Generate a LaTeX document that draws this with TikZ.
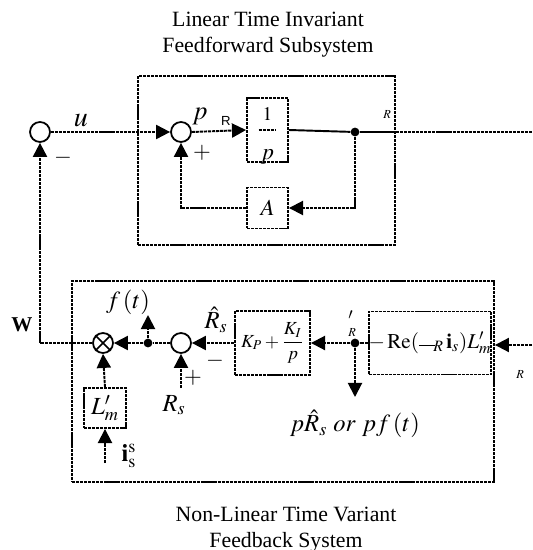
\documentclass[tikz,border=0pt]{standalone}
\usepackage{amsmath}
\usepackage{mathptmx}
\usepackage[no-math]{fontspec}
\setmainfont{Liberation Serif}
\setsansfont{Liberation Sans}
\usepackage{tikz}
\usetikzlibrary{arrows.meta}

\tikzset{
  dline/.style={line width=1.1pt, dash pattern=on 1.8pt off 0.5pt},
  subsys/.style={draw, dline, inner sep=0pt},
  blk/.style={draw, dline, inner sep=0pt},
  sumpt/.style={circle, draw, line width=1pt, minimum size=0.4cm, inner sep=0pt},
  dotpt/.style={circle, fill, inner sep=0pt, minimum size=5pt},
  arr/.style={dline, -{Triangle[length=8pt,width=8pt]}},
  lbl/.style={inner sep=0pt, font=\fontsize{12}{14}\selectfont},
  tiny/.style={inner sep=0pt, font=\fontsize{7}{8}\selectfont},
  title/.style={inner sep=0pt, align=center, font=\fontsize{12.4}{14.8}\selectfont},
}

\begin{document}
\begin{tikzpicture}[x=0.02cm, y=-0.02cm]
\useasboundingbox (0,0) rectangle (532,550);

% SOUS-SYSTEME AVANT
\node[subsys, minimum width=5.14cm, minimum height=3.38cm] (ff) at (266.5,160.5) {};
\node[title] (fftitle) at (268,35) {Linear Time Invariant\\Feedforward Subsystem};

\node[sumpt] (sum1) at (40,132) {};
\node[sumpt] (sum2) at (181,132) {};
\node[blk, minimum width=0.82cm, minimum height=1.28cm] (integ) at (267.5,130) {};
\node[lbl, font=\fontsize{11}{12}\selectfont] (one) at (267.5,114) {$1$};
\node[lbl, font=\fontsize{13}{15}\selectfont] (pden) at (267.5,157) {$p$};
\node[blk, minimum size=0.82cm, font=\fontsize{13}{15}\selectfont] (amat) at (267.5,208) {$A$};
\node[dotpt] (j1) at (355,132) {};
\coordinate (outR) at (532,132);

\draw[dline] ([xshift=-5pt]integ.center) -- ([xshift=5pt]integ.center);
\draw[arr] (sum1.east) -- (sum2.west);
\draw[arr] (sum2.east) -- (integ.west);
\draw[line width=1.1pt] (integ.east) -- (j1) -- (ff.east |- j1);
\draw[dline] (ff.east |- j1) -- (outR);
\draw[arr] (j1) |- (amat.east);
\draw[arr] (amat.west) -| (sum2.south);

\node[lbl, font=\fontsize{16}{18}\selectfont] (ulbl) at (81,121) {$u$};
\node[lbl, font=\fontsize{15}{17}\selectfont] (plbl) at (200,116) {$p$};
\node[tiny, font=\sffamily\fontsize{7.5}{8}\selectfont] (rlbl1) at (226,121) {R};
\node[tiny] (rlbl2) at (387,115) {$R$};
\node[lbl, font=\fontsize{13}{15}\selectfont] (plus1) at (202,153) {$+$};
\node[lbl, font=\fontsize{13}{15}\selectfont] (minus1) at (63,158) {$-$};

% SOUS-SYSTEME RETOUR
\node[subsys, minimum width=8.44cm, minimum height=4.02cm] (fb) at (283,381.5) {};
\node[title] (fbtitle) at (286,530) {Non-Linear Time Variant\\Feedback System};

\node[sumpt] (mul) at (103,343) {};
\draw[line width=1pt] (mul.north west) -- (mul.south east) (mul.north east) -- (mul.south west);
\node[dotpt] (j2) at (148,343) {};
\node[sumpt] (sum3) at (181,343) {};
\node[blk, minimum width=1.5cm, minimum height=1.28cm, font=\fontsize{10.5}{12}\selectfont] (pictl) at (272.5,343) {$K_{P}+\dfrac{K_{I}}{p}$};
\node[dotpt] (j3) at (355,343) {};
\node[blk, minimum width=2.12cm, minimum height=1.26cm, font=\fontsize{12}{14}\selectfont] (reblk) at (430,343)
  {$-\,\mathrm{Re}(\overline{\hphantom{\omega}}_{\!R}\,\mathbf{i}_{s})L'_{m}$};
\node[blk, minimum width=0.84cm, minimum height=0.8cm, font=\fontsize{14}{16}\selectfont] (lm) at (105,408) {$L'_{m}$};

\coordinate (ftop) at (148,315);
\coordinate (rsin) at (181,388);
\coordinate (isin) at (105,463);
\coordinate (pout) at (355,397);
\coordinate (wR) at (532,345);

\draw[arr] (wR) -- (fb.east |- wR);
\draw[dline] (reblk.west) -- (j3);
\draw[arr] (j3) -- (pictl.east);
\draw[arr] (j3) -- (pout);
\draw[arr] (pictl.west) -- (sum3.east);
\draw[arr] (rsin) -- (sum3.south);
\draw[dline] (sum3.west) -- (j2);
\draw[arr] (j2) -- (mul.east);
\draw[arr] (j2) -- (ftop);
\draw[arr] (lm.north) -- (mul.south);
\draw[arr] (isin) -- (lm.south);
\draw[arr] (mul.west) -| (sum1.south);

\node[lbl, font=\bfseries\fontsize{12}{14}\selectfont] (wlbl) at (22,325) {W};
\node[lbl, font=\fontsize{14}{16}\selectfont] (flbl) at (128,302) {$f\,(t)$};
\node[lbl, font=\fontsize{14}{16}\selectfont] (rhat) at (216,320) {$\hat{R}_{s}$};
\node[lbl, font=\fontsize{13}{15}\selectfont] (minus2) at (215,361) {$-$};
\node[lbl, font=\fontsize{13}{15}\selectfont] (plus2) at (193,378) {$+$};
\node[lbl, font=\fontsize{14}{16}\selectfont] (rslbl) at (174,405) {$R_{s}$};
\node[lbl, font=\fontsize{14}{16}\selectfont] (islbl) at (129,456) {$\mathbf{i}_{\mathrm{s}}^{\mathrm{s}}$};
\node[lbl] (prime) at (351,319) {$'$};
\node[tiny] (rlbl3) at (352,333) {$R$};
\node[lbl, font=\fontsize{14}{16}\selectfont] (plbl2) at (355,424) {$p\hat{R}_{s}\ or\ pf\,(t)$};
\node[tiny] (rlbl4) at (520,375) {$R$};

\end{tikzpicture}
\end{document}
